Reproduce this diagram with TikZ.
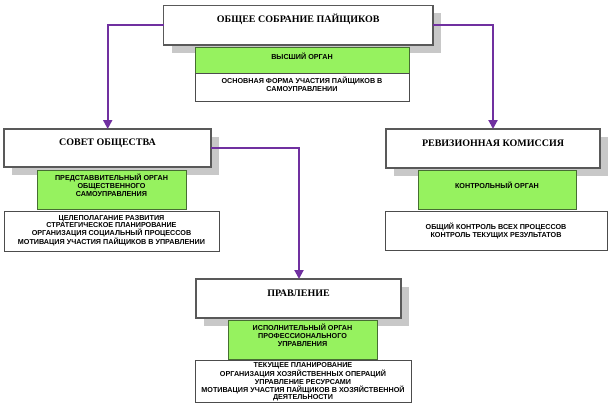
\documentclass[tikz,border=0pt]{standalone}
\usepackage{fontspec}
\setmainfont{Liberation Serif}
\setsansfont{Liberation Sans}
\usetikzlibrary{shadows,arrows.meta}
\definecolor{grn}{RGB}{150,242,95}
\definecolor{grnborder}{RGB}{70,110,50}
\definecolor{purp}{RGB}{112,48,160}
\definecolor{shd}{RGB}{200,200,200}
\tikzset{
  titlebox/.style={draw=black!65, line width=1.2pt, fill=white, inner sep=0pt, outer sep=0pt, anchor=north west,
    drop shadow={shadow xshift=8pt, shadow yshift=-8pt, fill=shd, opacity=1}},
  greenbox/.style={draw=grnborder, line width=0.9pt, fill=grn, inner sep=0pt, outer sep=0pt, anchor=north west},
  descbox/.style={draw=black!70, line width=0.7pt, fill=white, inner sep=0pt, outer sep=0pt, anchor=north west},
  titletext/.style={font=\rmfamily\bfseries\fontsize{10}{12}\selectfont, inner sep=0pt, align=center},
  smalltext/.style={font=\sffamily\bfseries\fontsize{7.2}{7.75}\selectfont, inner sep=0pt, align=center},
  conn/.style={draw=purp, line width=2pt, -{Triangle[length=9pt,width=9pt]}}
}
\begin{document}
\begin{tikzpicture}[x=1pt,y=-1pt]
\useasboundingbox (0,0) rectangle (612,404);
% Общее собрание
\node[titlebox, minimum width=269.5pt, minimum height=39.5pt] (gen) at (163.5,5.5) {};
\node[greenbox, minimum width=214pt, minimum height=26pt] (genG) at (195,47) {};
\node[descbox, minimum width=214pt, minimum height=28pt] (genD) at (195,73) {};
\node[titletext] (genT) at (298.25,19.5) {ОБЩЕЕ СОБРАНИЕ ПАЙЩИКОВ};
\node[smalltext] (genGT) at (302,56) {ВЫСШИЙ ОРГАН};
\node[smalltext] (genDT) at (302,84) {ОСНОВНАЯ ФОРМА УЧАСТИЯ ПАЙЩИКОВ В\\САМОУПРАВЛЕНИИ};
% Совет общества
\node[titlebox, minimum width=207pt, minimum height=38pt] (sov) at (4,129) {};
\node[greenbox, minimum width=149pt, minimum height=39pt] (sovG) at (37,170) {};
\node[descbox, minimum width=215pt, minimum height=40pt] (sovD) at (4,211) {};
\node[titletext] (sovT) at (107.5,143.5) {СОВЕТ ОБЩЕСТВА};
\node[smalltext] (sovGT) at (111.5,185.5) {ПРЕДСТАВВИТЕЛЬНЫЙ ОРГАН\\ОБЩЕСТВЕННОГО\\САМОУПРАВЛЕНИЯ};
\node[smalltext] (sovDT) at (111.5,230.5) {ЦЕЛЕПОЛАГАНИЕ РАЗВИТИЯ\\СТРАТЕГИЧЕСКОЕ ПЛАНИРОВАНИЕ\\ОРГАНИЗАЦИЯ СОЦИАЛЬНЫЙ ПРОЦЕССОВ\\МОТИВАЦИЯ УЧАСТИЯ ПАЙЩИКОВ В УПРАВЛЕНИИ};
% Ревизионная комиссия
\node[titlebox, minimum width=214pt, minimum height=39pt] (rev) at (386,129) {};
\node[greenbox, minimum width=158pt, minimum height=39pt] (revG) at (418,170) {};
\node[descbox, minimum width=222pt, minimum height=39pt] (revD) at (385,211) {};
\node[titletext] (revT) at (493,143.5) {РЕВИЗИОННАЯ КОМИССИЯ};
\node[smalltext] (revGT) at (497,185.5) {КОНТРОЛЬНЫЙ ОРГАН};
\node[smalltext] (revDT) at (496,231) {ОБЩИЙ КОНТРОЛЬ ВСЕХ ПРОЦЕССОВ\\КОНТРОЛЬ ТЕКУЩИХ РЕЗУЛЬТАТОВ};
% Правление
\node[titlebox, minimum width=205pt, minimum height=39pt] (pra) at (196,279) {};
\node[greenbox, minimum width=149pt, minimum height=39pt] (praG) at (228,320) {};
\node[descbox, minimum width=216pt, minimum height=42pt] (praD) at (195,360) {};
\node[titletext] (praT) at (298.5,293.5) {ПРАВЛЕНИЕ};
\node[smalltext] (praGT) at (302.5,335.5) {ИСПОЛНИТЕЛЬНЫЙ ОРГАН\\ПРОФЕССИОНАЛЬНОГО\\УПРАВЛЕНИЯ};
\node[smalltext] (praDT) at (303,382) {ТЕКУЩЕЕ ПЛАНИРОВАНИЕ\\ОРГАНИЗАЦИЯ ХОЗЯЙСТВЕННЫХ ОПЕРАЦИЙ\\УПРАВЛЕНИЕ РЕСУРСАМИ\\МОТИВАЦИЯ УЧАСТИЯ ПАЙЩИКОВ В ХОЗЯЙСТВЕННОЙ\\ДЕЯТЕЛЬНОСТИ};
% connectors
\coordinate (c1) at (107.7,25.5);
\coordinate (c2) at (493,25.5);
\coordinate (c3) at (299,148);
\draw[conn] (gen.west |- c1) -- (c1) -- (c1 |- sov.north);
\draw[conn] (gen.east |- c2) -- (c2) -- (c2 |- rev.north);
\draw[conn] (sov.east |- c3) -- (c3) -- (c3 |- pra.north);
\end{tikzpicture}
\end{document}
